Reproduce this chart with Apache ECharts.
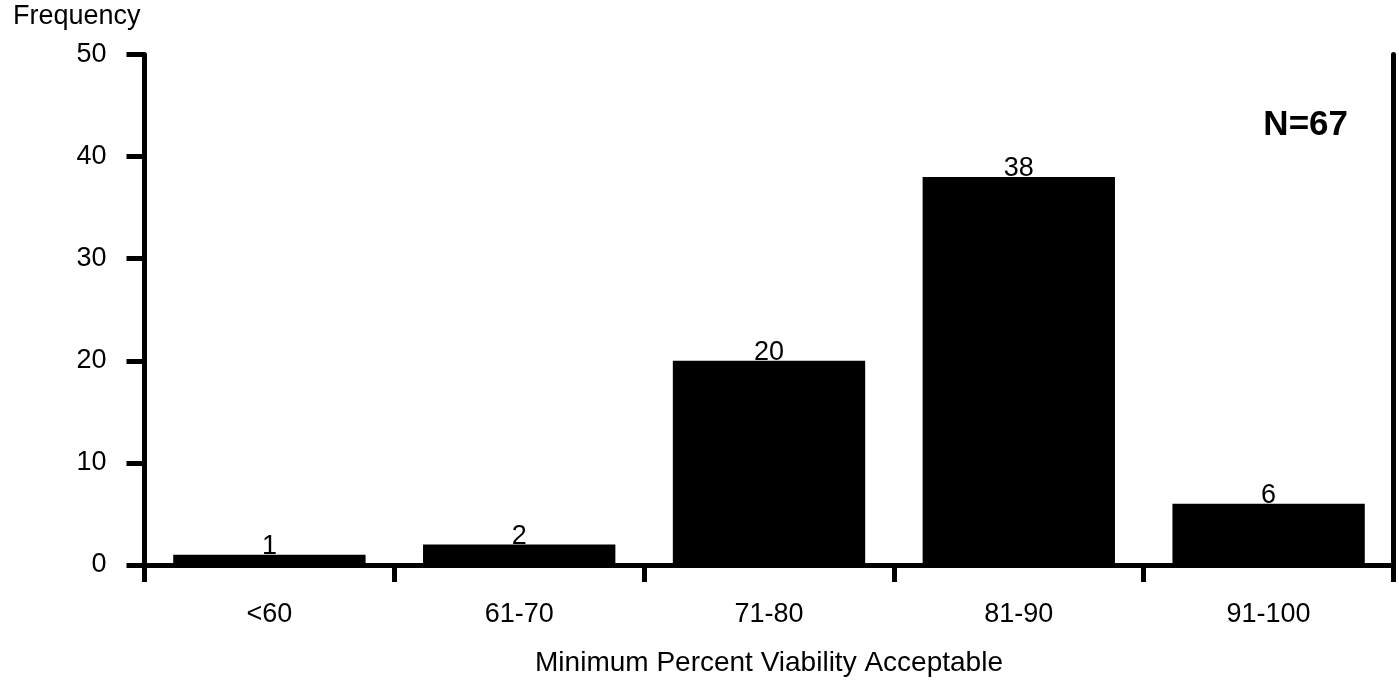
<!DOCTYPE html>
<html><head><meta charset="utf-8">
<script src="https://cdn.jsdelivr.net/npm/echarts@6/dist/echarts.min.js"></script>
<style>html,body{margin:0;padding:0;background:#fff}#c{width:1399px;height:682px}</style>
</head><body><div id="c"></div>
<script>
const categories = ['<60', '61-70', '71-80', '81-90', '91-100'];
const frequency = [1, 2, 20, 38, 6];
const yTicks = [0, 10, 20, 30, 40, 50];
const annotation = 'N=67';

const FONT = '"Liberation Sans", Arial, sans-serif';
const chart = echarts.init(document.getElementById('c'));
chart.setOption({
  animation: false,
  backgroundColor: '#fff',
  title: {
    text: annotation, right: 51, top: 108, padding: 0,
    textStyle: {fontFamily: FONT, fontSize: 35, fontWeight: 'bold', color: '#000'}
  },
  grid: {left: 144.5, right: 5.5, top: 54.5, bottom: 116, containLabel: false},
  xAxis: [{
    type: 'category', data: categories, position: 'bottom',
    name: 'Minimum Percent Viability Acceptable', nameLocation: 'middle', nameGap: 84,
    nameTextStyle: {fontFamily: FONT, fontSize: 28, color: '#000'},
    axisLine: {lineStyle: {color: '#000', width: 5}},
    axisTick: {show: true, alignWithLabel: false, length: 17, lineStyle: {color: '#000', width: 5}},
    axisLabel: {fontFamily: FONT, fontSize: 27, color: '#000', margin: 36}
  }, {
    type: 'category', data: categories, position: 'top',
    axisLine: {show: true, lineStyle: {color: '#000', width: 5}},
    axisTick: {show: false}, axisLabel: {show: false}
  }],
  yAxis: [{
    type: 'value', min: 0, max: 50, interval: 10, position: 'left',
    name: 'Frequency', nameLocation: 'end', nameGap: 24,
    nameTextStyle: {fontFamily: FONT, fontSize: 27, color: '#000', align: 'right', padding: [0, 4, 0, 0]},
    axisLine: {show: true, lineStyle: {color: '#000', width: 5}},
    axisTick: {show: true, length: 18, lineStyle: {color: '#000', width: 5}},
    axisLabel: {fontFamily: FONT, fontSize: 27, color: '#000', margin: 38,
      formatter: v => yTicks.includes(v) ? String(v) : ''},
    splitLine: {show: false}
  }, {
    type: 'value', min: 0, max: 50, interval: 10, position: 'right',
    axisLine: {show: true, lineStyle: {color: '#000', width: 5}},
    axisTick: {show: false}, axisLabel: {show: false}, splitLine: {show: false}
  }],
  series: [{
    type: 'bar', data: frequency, barCategoryGap: '23%',
    itemStyle: {color: '#000'},
    label: {show: true, position: 'top', distance: 5, offset: [0, 10],
      fontFamily: FONT, fontSize: 27, color: '#000'}
  }]
});
</script></body></html>
